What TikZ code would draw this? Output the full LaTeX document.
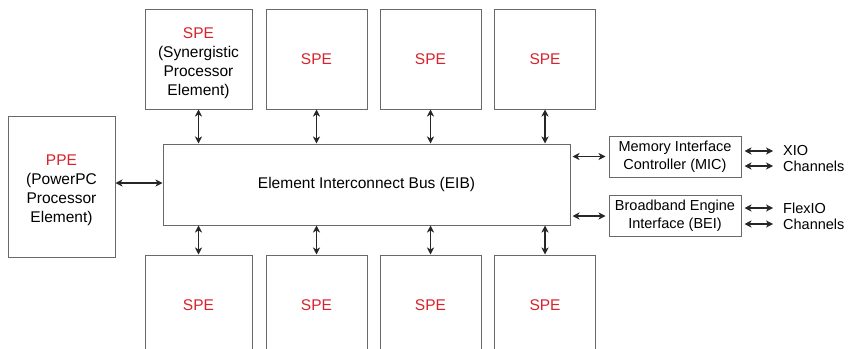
\documentclass[tikz,border=0pt]{standalone}
\usepackage{fontspec}
\setmainfont{Liberation Sans}
\usetikzlibrary{arrows.meta}
\definecolor{spered}{RGB}{215,35,45}
\definecolor{boxgray}{RGB}{105,105,105}
\tikzset{
  blk/.style={draw=boxgray, line width=1pt, fill=white, inner sep=0pt, align=center},
  spebox/.style={blk, minimum width=101pt, minimum height=100pt, font=\fontsize{15.5}{19}\selectfont},
  iobox/.style={blk, minimum width=132pt, minimum height=41pt, font=\fontsize{14.5}{18}\selectfont},
  lbl/.style={inner sep=0pt, anchor=west, font=\fontsize{14.5}{18}\selectfont},
  txt/.style={inner sep=0pt, align=center, font=\fontsize{15.5}{19}\selectfont},
  link/.style={draw=black!85, line width=1.1pt, {Stealth[length=7pt,width=7pt,inset=2pt]}-{Stealth[length=7pt,width=7pt,inset=2pt]}}
}
\begin{document}
\begin{tikzpicture}[x=1pt,y=-1pt]
\useasboundingbox (0,0) rectangle (850,348);
\fill[white] (0,0) rectangle (850,348);
\begin{scope}
\clip (0,0) rectangle (850,348);
% top SPEs
\node[spebox, minimum width=107pt] (t1) at (198.5,59) {};
\node[txt] (t1txt) at (198.5,63) {\textcolor{spered}{SPE}\\(Synergistic\\Processor\\Element)};
\node[spebox] (t2) at (316.5,59) {\textcolor{spered}{SPE}};
\node[spebox] (t3) at (430.5,59) {\textcolor{spered}{SPE}};
\node[spebox] (t4) at (545,59) {\textcolor{spered}{SPE}};
% bottom SPEs
\node[spebox, minimum width=107pt] (b1) at (198.5,305) {\textcolor{spered}{SPE}};
\node[spebox] (b2) at (316.5,305) {\textcolor{spered}{SPE}};
\node[spebox] (b3) at (430.5,305) {\textcolor{spered}{SPE}};
\node[spebox] (b4) at (545,305) {\textcolor{spered}{SPE}};
% PPE
\node[blk, minimum width=107pt, minimum height=141pt] (ppe) at (61.5,187) {};
\node[txt] (ppetxt) at (61.5,190) {\textcolor{spered}{PPE}\\(PowerPC\\Processor\\Element)};
% EIB
\node[blk, minimum width=407pt, minimum height=81pt, font=\fontsize{15.5}{19}\selectfont] (eib) at (366.5,184.5)
  {Element Interconnect Bus (EIB)};
% IO
\node[iobox] (mic) at (675,156.5) {Memory Interface\\Controller (MIC)};
\node[iobox] (bei) at (675,216) {Broadband Engine\\Interface (BEI)};
% connectors
\foreach \i in {1,2,3,4}{
  \draw[link] (t\i.south) -- (t\i.south |- eib.north);
  \draw[link] (b\i.north |- eib.south) -- (b\i.north);
}
\draw[link] (ppe.east |- 0,183) -- (eib.west |- 0,183);
\draw[link] ([xshift=2pt]eib.east |- mic.west) -- ([xshift=-3pt]mic.west);
\draw[link] ([xshift=2pt]eib.east |- bei.west) -- ([xshift=-3pt]bei.west);
% right labels
\node[lbl] (xio) at (783,151) {XIO};
\node[lbl] (xch) at (783,166) {Channels};
\node[lbl] (fio) at (783,208) {FlexIO};
\node[lbl] (fch) at (783,224) {Channels};
\coordinate (xa) at (773,151);
\coordinate (xb) at (773,166);
\coordinate (fa) at (773,208);
\coordinate (fb) at (773,224);
\draw[link] ([xshift=3pt]mic.east |- xa) -- (xa);
\draw[link] ([xshift=3pt]mic.east |- xb) -- (xb);
\draw[link] ([xshift=3pt]bei.east |- fa) -- (fa);
\draw[link] ([xshift=3pt]bei.east |- fb) -- (fb);
\end{scope}
\end{tikzpicture}
\end{document}
